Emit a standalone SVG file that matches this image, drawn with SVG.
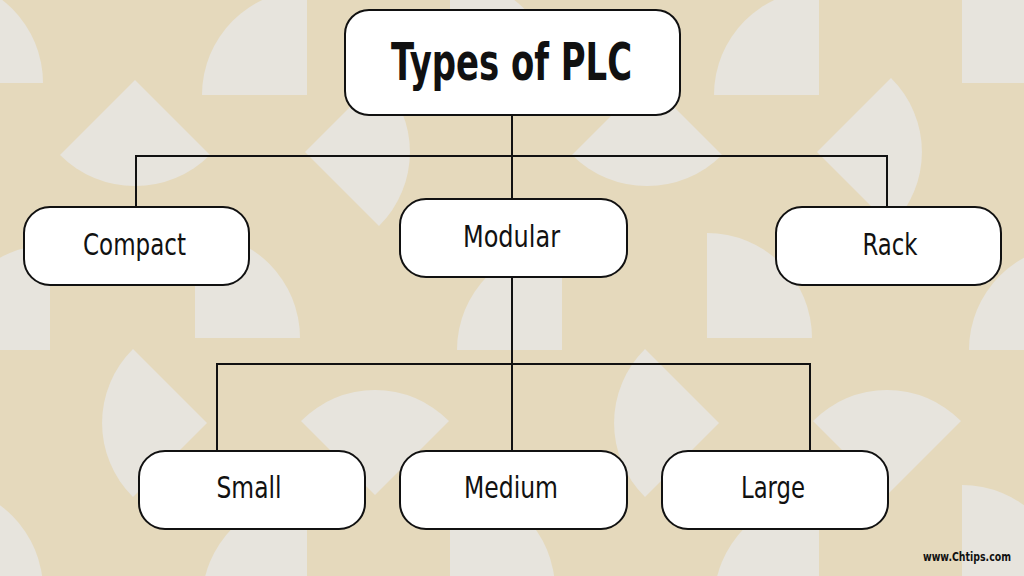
<svg xmlns="http://www.w3.org/2000/svg" xmlns:xlink="http://www.w3.org/1999/xlink" width="1024" height="576" viewBox="0 0 1024 576">
  <style>
    .bg { fill: #e5d9bc; }
    .deco { fill: #e7e4dd; }
    .box { fill: #ffffff; stroke: #111111; stroke-width: 2; }
    .wire { fill: none; stroke: #111111; stroke-width: 2; }
    .lbl { font-family: "Liberation Sans Narrow", "DejaVu Sans Condensed", "Roboto", sans-serif; font-stretch: condensed; fill: #111111; text-anchor: middle; }
    .title { font-size: 52px; font-weight: bold; }
    .node { font-size: 30px; }
    .mark { font-family: "Liberation Sans Narrow", "DejaVu Sans Condensed", sans-serif; font-stretch: condensed; font-size: 12px; font-weight: bold; fill: #111111; }
  </style>
  <defs>
    <g id="tile">
      <path class="deco" d="M -62 83 L -62 -22 A 105 105 0 0 1 43 83 Z"/>
      <path class="deco" d="M 307 95 L 202 95 A 105 105 0 0 1 307 -10 Z"/>
      <path class="deco" d="M 135 80 L 210 155 A 106 106 0 0 1 60 155 Z"/>
      <path class="deco" d="M 305 152 L 379 78 A 104 104 0 0 1 379 226 Z"/>
      <path class="deco" d="M 195 338 L 195 233 A 105 105 0 0 1 300 338 Z"/>
      <path class="deco" d="M 50 350 L -55 350 A 105 105 0 0 1 50 245 Z"/>
      <path class="deco" d="M 207 423 L 133 349 A 104 104 0 0 0 133 497 Z"/>
      <path class="deco" d="M 375 495 L 301 421 A 104 104 0 0 1 449 421 Z"/>
    </g>
  </defs>

  <g id="background">
    <rect class="bg" x="0" y="0" width="1024" height="576"/>
    <use xlink:href="#tile" href="#tile"/>
    <use xlink:href="#tile" href="#tile" transform="translate(512,0)"/>
    <use xlink:href="#tile" href="#tile" transform="translate(1024,0)"/>
    <use xlink:href="#tile" href="#tile" transform="translate(0,507)"/>
    <use xlink:href="#tile" href="#tile" transform="translate(512,507)"/>
    <use xlink:href="#tile" href="#tile" transform="translate(1024,507)"/>
  </g>

  <g id="connectors">
    <path class="wire" d="M 512 115 L 512 199"/>
    <path class="wire" d="M 136 207 L 136 156 L 887 156 L 887 207"/>
    <path class="wire" d="M 512 277 L 512 450"/>
    <path class="wire" d="M 217 450 L 217 364 L 810 364 L 810 450"/>
  </g>

  <g id="node-title">
    <rect class="box" x="345" y="10" width="335" height="105" rx="24" ry="24"/>
    <text class="lbl title" x="511.5" y="80" textLength="241" lengthAdjust="spacingAndGlyphs">Types of PLC</text>
  </g>

  <g id="node-compact">
    <rect class="box" x="24" y="207" width="225" height="78" rx="26" ry="26"/>
    <text class="lbl node" x="134.5" y="255" textLength="103" lengthAdjust="spacingAndGlyphs">Compact</text>
  </g>

  <g id="node-modular">
    <rect class="box" x="400" y="199" width="227" height="78" rx="26" ry="26"/>
    <text class="lbl node" x="511.5" y="247" textLength="97" lengthAdjust="spacingAndGlyphs">Modular</text>
  </g>

  <g id="node-rack">
    <rect class="box" x="776" y="207" width="225" height="78" rx="26" ry="26"/>
    <text class="lbl node" x="890" y="255" textLength="55" lengthAdjust="spacingAndGlyphs">Rack</text>
  </g>

  <g id="node-small">
    <rect class="box" x="139" y="451" width="226" height="78" rx="26" ry="26"/>
    <text class="lbl node" x="249" y="498" textLength="65" lengthAdjust="spacingAndGlyphs">Small</text>
  </g>

  <g id="node-medium">
    <rect class="box" x="400" y="451" width="227" height="78" rx="26" ry="26"/>
    <text class="lbl node" x="511" y="498" textLength="94" lengthAdjust="spacingAndGlyphs">Medium</text>
  </g>

  <g id="node-large">
    <rect class="box" x="662" y="451" width="226" height="78" rx="26" ry="26"/>
    <text class="lbl node" x="773" y="498" textLength="64" lengthAdjust="spacingAndGlyphs">Large</text>
  </g>

  <text class="mark" x="923" y="561" textLength="88" lengthAdjust="spacingAndGlyphs">www.Chtips.com</text>
</svg>
